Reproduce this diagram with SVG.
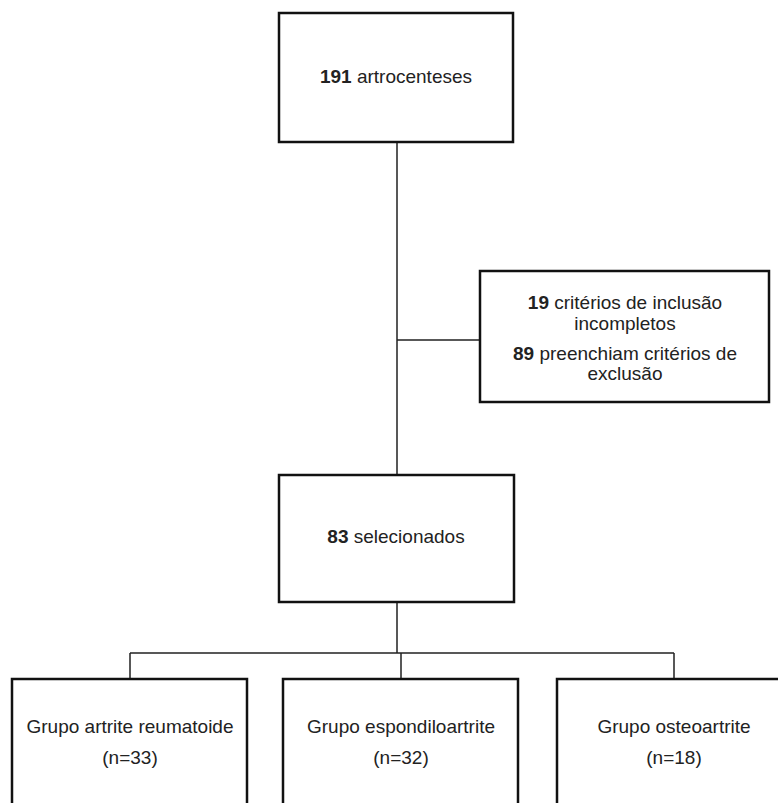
<svg xmlns="http://www.w3.org/2000/svg" width="778" height="803" viewBox="0 0 778 803">
<style>
.box{fill:#fff;stroke:#111;stroke-width:2.5}
.ln{fill:none;stroke:#222;stroke-width:1.5}
text{font-family:"Liberation Sans",Arial,sans-serif;font-size:19px;fill:#222;text-anchor:middle}
.b{font-weight:bold}
</style>
<rect width="778" height="803" fill="#fff"/>
<g id="connectors">
<path class="ln" d="M397 142V475M397 340H480M397 602V653M130 653H674M130 653V679M401 653V679M674 653V679"/>
</g>
<g id="n1">
<rect class="box" x="279" y="13" width="234" height="129"/>
<text x="396" y="83"><tspan class="b">191</tspan> artrocenteses</text>
</g>
<g id="n2">
<rect class="box" x="480" y="271" width="289" height="131"/>
<text x="625" y="309"><tspan class="b">19</tspan> critérios de inclusão</text>
<text x="625" y="330">incompletos</text>
<text x="625" y="360"><tspan class="b">89</tspan> preenchiam critérios de</text>
<text x="625" y="380">exclusão</text>
</g>
<g id="n3">
<rect class="box" x="279" y="475" width="235" height="127"/>
<text x="396" y="543"><tspan class="b">83</tspan> selecionados</text>
</g>
<g id="n4">
<rect class="box" x="12" y="679" width="235" height="140"/>
<text x="130" y="733">Grupo artrite reumatoide</text>
<text x="130" y="764">(n=33)</text>
</g>
<g id="n5">
<rect class="box" x="283" y="679" width="235" height="140"/>
<text x="401" y="733">Grupo espondiloartrite</text>
<text x="401" y="764">(n=32)</text>
</g>
<g id="n6">
<rect class="box" x="557" y="679" width="235" height="140"/>
<text x="674" y="733">Grupo osteoartrite</text>
<text x="674" y="764">(n=18)</text>
</g>
</svg>
